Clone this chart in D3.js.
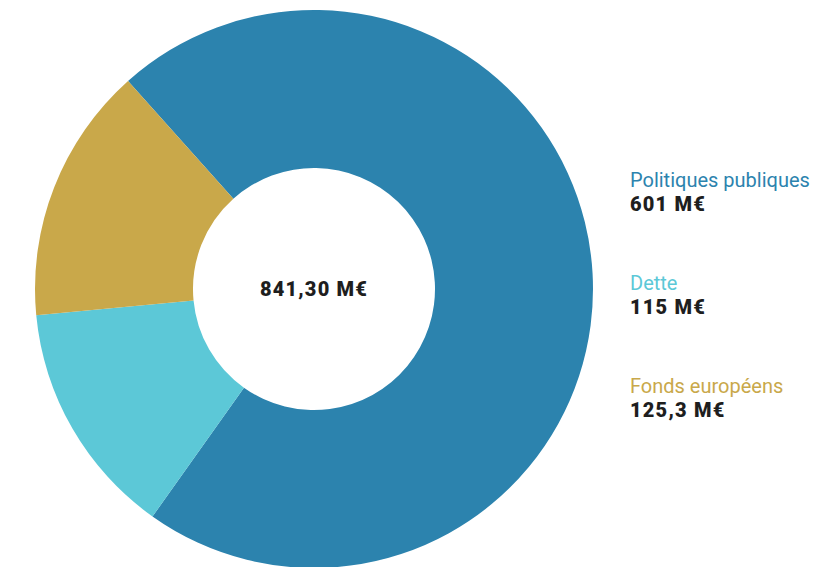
<!DOCTYPE html>
<html>
<head>
<meta charset="utf-8">
<script src="https://cdn.jsdelivr.net/npm/d3@7"></script>
<style>
  body { margin: 0; background: #fff; }
  svg { display: block; }
</style>
</head>
<body>
<svg id="chart" width="830" height="567"></svg>
<script>
var categories = ["Politiques publiques", "Dette", "Fonds européens"];
var values = [601, 115, 125.3];
var valueLabels = ["601 M€", "115 M€", "125,3 M€"];
var totalLabel = "841,30 M€";
var colors = ["#2c83ae", "#5cc8d7", "#c9a84a"];

var svg = d3.select("#chart");
var cx = 314, cy = 289;
var outerR = 279, innerR = 121;

var data = categories.map(function(c, i) {
    return {name: c, value: values[i], label: valueLabels[i], color: colors[i]};
});

// blue slice starts a bit left of 12 o'clock
var start = -41.8 * Math.PI / 180;
var pie = d3.pie()
    .sort(null)
    .value(function(d) { return d.value; })
    .startAngle(start)
    .endAngle(start + 2 * Math.PI);

var arc = d3.arc().innerRadius(innerR).outerRadius(outerR);

var g = svg.append("g").attr("transform", "translate(" + cx + "," + cy + ")");

g.selectAll("path")
    .data(pie(data))
    .enter().append("path")
    .attr("d", arc)
    .attr("fill", function(d) { return d.data.color; });

g.append("text")
    .attr("text-anchor", "middle")
    .attr("y", 7)
    .attr("font-family", "Roboto, sans-serif")
    .attr("font-weight", 900)
    .attr("font-size", 20)
    .attr("letter-spacing", 1.2)
    .attr("fill", "#1e1e1e")
    .text(totalLabel);

// legend on the right
var legendY = d3.scalePoint().domain(categories).range([187, 393]);

var legend = svg.append("g");
data.forEach(function(d) {
    var y = legendY(d.name);
    legend.append("text")
        .attr("x", 630)
        .attr("y", y)
        .attr("font-family", "Roboto, sans-serif")
        .attr("font-weight", 400)
        .attr("font-size", 20)
        .attr("fill", d.color)
        .text(d.name);
    legend.append("text")
        .attr("x", 630)
        .attr("y", y + 24)
        .attr("font-family", "Roboto, sans-serif")
        .attr("font-weight", 900)
        .attr("font-size", 20)
        .attr("letter-spacing", 1.2)
        .attr("fill", "#1e1e1e")
        .text(d.label);
});
</script>
</body>
</html>
